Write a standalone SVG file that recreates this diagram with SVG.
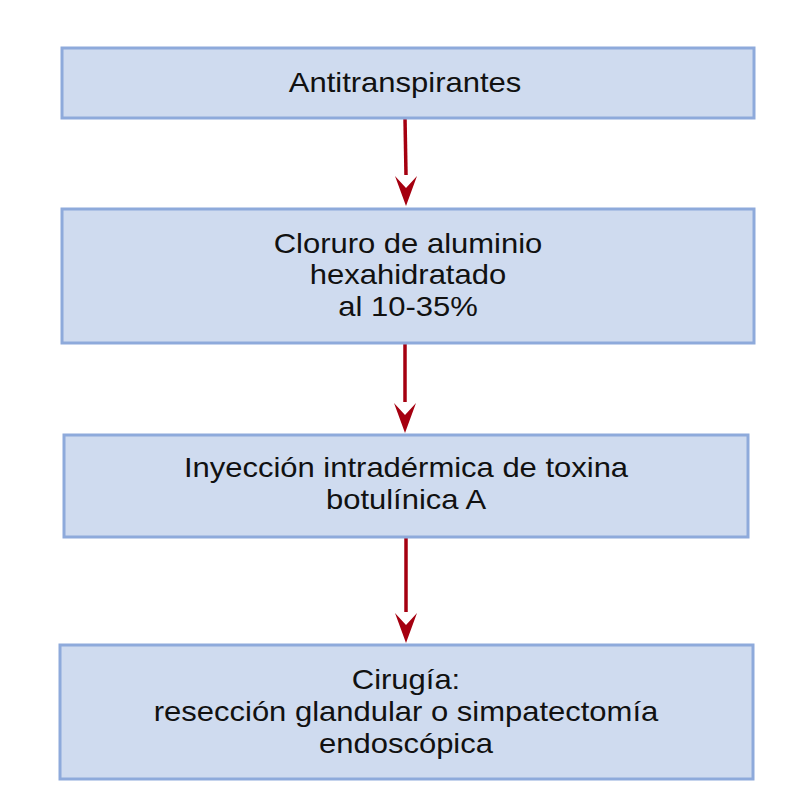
<svg xmlns="http://www.w3.org/2000/svg" width="787" height="807" viewBox="0 0 787 807">
<defs>
<style>
.box{fill:#cfdbef;stroke:#8eaadb;stroke-width:3}
.t{font-family:"Liberation Sans",Arial,sans-serif;font-size:28px;fill:#111;text-anchor:middle}
.c{stroke:#a50010;stroke-width:3.5;fill:none}
.h{fill:#a50010}
</style>
</defs>
<rect width="787" height="807" fill="#fff"/>
<g id="connectors">
<path class="c" d="M405,118 L406,175"/>
<path class="h" d="M395,176 L406,188 L417,176 L406,206 Z"/>
<path class="c" d="M405,343 L405,402"/>
<path class="h" d="M394,403 L405,415 L416,403 L405,433 Z"/>
<path class="c" d="M406,537 L406,612"/>
<path class="h" d="M395,613 L406,625 L417,613 L406,643 Z"/>
</g>
<g id="n1">
<rect class="box" x="62" y="48" width="692" height="70"/>
<g transform="translate(405,0) scale(1.107,1)">
<text class="t" x="0" y="92">Antitranspirantes</text>
</g>
</g>
<g id="n2">
<rect class="box" x="62" y="209" width="692" height="134"/>
<g transform="translate(408,0) scale(1.107,1)">
<text class="t" x="0" y="253">Cloruro de aluminio</text>
<text class="t" x="0" y="284.5">hexahidratado</text>
<text class="t" x="0" y="316">al 10-35%</text>
</g>
</g>
<g id="n3">
<rect class="box" x="64" y="435" width="684" height="102"/>
<g transform="translate(406,0) scale(1.107,1)">
<text class="t" x="0" y="477">Inyección intradérmica de toxina</text>
<text class="t" x="0" y="509.5">botulínica A</text>
</g>
</g>
<g id="n4">
<rect class="box" x="60" y="645" width="693" height="134"/>
<g transform="translate(406,0) scale(1.107,1)">
<text class="t" x="0" y="689">Cirugía:</text>
<text class="t" x="0" y="721">resección glandular o simpatectomía</text>
<text class="t" x="0" y="753">endoscópica</text>
</g>
</g>
</svg>
